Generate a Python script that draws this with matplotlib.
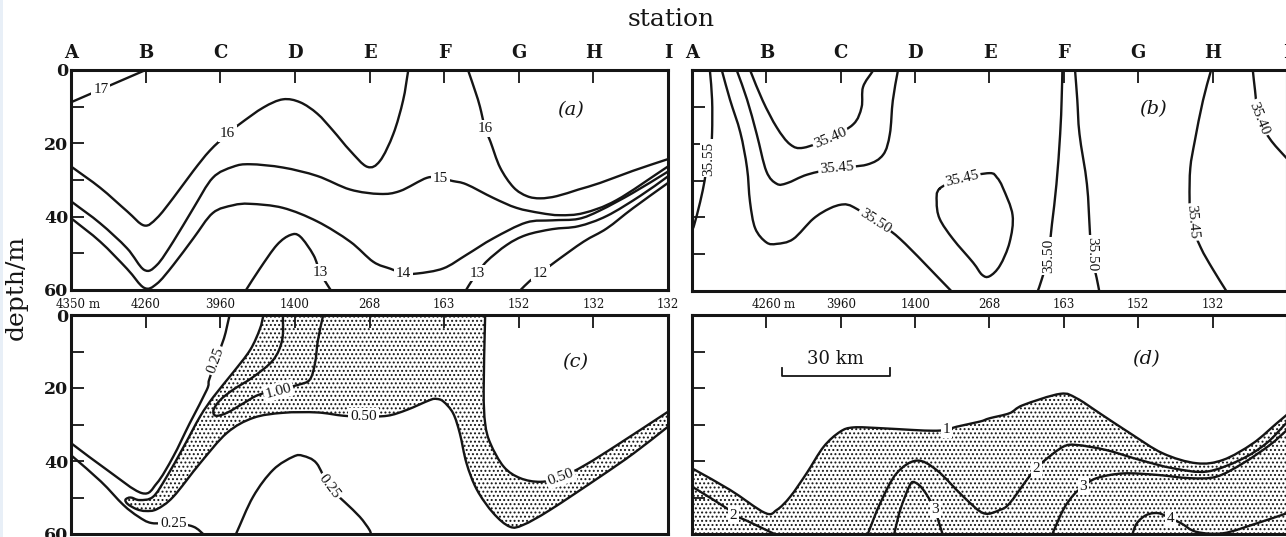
import numpy as np
import matplotlib
matplotlib.use("Agg")
import matplotlib.pyplot as plt
from matplotlib.patches import Rectangle, PathPatch
from matplotlib.path import Path

plt.rcParams['hatch.linewidth'] = 0.9
plt.rcParams['hatch.color'] = 'black'
plt.rcParams['font.family'] = ['DejaVu Serif']

# ---------------- axes data ----------------
stations = ["A", "B", "C", "D", "E", "F", "G", "H", "I"]
station_pos = [0, 1, 2, 3, 4, 5, 6, 7, 8]
depth_ticks = [0, 10, 20, 30, 40, 50, 60]
depth_labels = ["0", "", "20", "", "40", "", "60"]
water_depth_c = ["4350", "4260", "3960", "1400", "268", "163", "152", "132", "132"]
water_depth_d = ["", "4260", "3960", "1400", "268", "163", "152", "132", ""]

# ---------------- (a) temperature ----------------
a17_x = [0.0, 1.0]
a17_d = [8.8, 0.0]
a16l_x = [0.0, 0.39, 0.75, 0.98, 1.15, 1.37, 1.64, 1.86, 2.1, 2.27, 2.58, 2.84, 3.07, 3.3, 3.51, 3.74, 3.97, 4.14, 4.32, 4.45, 4.52]
a16l_d = [26.3, 32.1, 38.5, 42.4, 40.4, 34.9, 27.5, 22.0, 17.4, 14.6, 10.2, 8.0, 8.8, 11.9, 16.5, 22.0, 26.4, 24.8, 17.4, 8.3, 0.0]
a16r_x = [5.32, 5.42, 5.48, 5.55, 5.62, 5.75, 5.93, 6.11, 6.29, 6.51, 6.8, 7.09, 7.53, 8.0]
a16r_d = [0.0, 6.0, 10.0, 16.0, 19.5, 26.6, 32.0, 34.4, 35.0, 34.4, 32.6, 30.8, 27.5, 24.3]
a15_x = [0.0, 0.39, 0.75, 0.98, 1.15, 1.37, 1.64, 1.9, 2.17, 2.4, 2.84, 3.3, 3.74, 4.14, 4.41, 4.77, 4.95, 5.12, 5.3, 5.66, 5.97, 6.29, 6.55, 6.87, 7.31, 8.0]
a15_d = [35.8, 41.8, 48.6, 54.5, 53.2, 46.8, 37.7, 29.4, 26.4, 25.7, 26.6, 28.9, 32.6, 33.8, 33.0, 29.4, 29.6, 30.3, 31.2, 34.9, 37.6, 39.0, 39.6, 39.0, 35.5, 26.3]
a14_x = [0.0, 0.39, 0.75, 0.98, 1.15, 1.37, 1.64, 1.9, 2.17, 2.4, 2.84, 3.3, 3.74, 4.05, 4.28, 4.45, 4.64, 4.99, 5.3, 5.66, 6.1, 6.45, 6.8, 7.09, 7.53, 8.0]
a14_d = [40.4, 46.8, 54.2, 59.4, 58.3, 53.2, 45.9, 39.0, 36.9, 36.5, 37.6, 41.3, 46.8, 52.3, 54.2, 55.4, 55.5, 54.1, 50.4, 45.9, 41.6, 41.0, 40.6, 38.3, 33.5, 27.7]
a13l_x = [2.33, 2.53, 2.76, 2.94, 3.07, 3.25, 3.34, 3.47, 3.5]
a13l_d = [60.5, 54.2, 47.7, 45.0, 45.4, 50.5, 55.3, 59.7, 60.5]
a13r_x = [5.28, 5.37, 5.45, 5.57, 5.84, 6.1, 6.45, 6.8, 7.18, 7.63, 8.0]
a13r_d = [60.5, 57.5, 55.4, 52.2, 47.7, 45.0, 43.4, 42.6, 39.8, 34.3, 29.0]
a12_x = [6.0, 6.15, 6.29, 6.49, 6.87, 7.18, 7.53, 8.0]
a12_d = [60.5, 57.5, 55.4, 52.3, 46.8, 43.2, 37.7, 30.8]

# ---------------- (b) salinity ----------------
b3555_x = [0.24, 0.27, 0.27, 0.25, 0.20, 0.17, 0.11, 0.03, 0.0]
b3555_d = [0.0, 8.0, 17.0, 22.0, 26.0, 30.0, 35.8, 42.0, 43.5]
b3550_x = [0.40, 0.51, 0.65, 0.74, 0.78, 0.85, 1.0, 1.14, 1.36, 1.63, 1.85, 2.03, 2.17, 2.46, 2.8, 3.51]
b3550_d = [0.0, 8.0, 17.0, 26.6, 35.8, 43.0, 46.8, 47.2, 45.9, 40.4, 37.6, 36.5, 37.2, 41.0, 45.9, 60.5]
b3545a_x = [0.60, 0.74, 0.87, 1.0, 1.14, 1.28, 1.55, 1.95, 2.35, 2.57, 2.66, 2.70, 2.77]
b3545a_d = [0.0, 8.0, 17.4, 27.5, 30.9, 30.7, 28.4, 26.6, 25.7, 23.0, 17.4, 8.3, 0.0]
b3540a_x = [0.78, 0.95, 1.14, 1.32, 1.50, 1.86, 2.17, 2.28, 2.30, 2.44]
b3540a_d = [0.0, 8.3, 15.6, 20.2, 21.1, 18.4, 14.7, 10.1, 4.6, 0.0]
b3545o_x = [3.33, 3.63, 4.0, 4.1, 4.18, 4.31, 4.27, 4.14, 4.0, 3.9, 3.78, 3.51, 3.33, 3.29, 3.33]
b3545o_d = [32.2, 29.4, 28.0, 29.2, 32.0, 39.4, 46.8, 53.1, 56.0, 55.6, 52.3, 45.9, 40.4, 35.8, 32.2]
b3550f1_x = [4.98, 4.97, 4.95, 4.90, 4.84, 4.79, 4.70, 4.64]
b3550f1_d = [0.0, 8.0, 17.4, 31.0, 41.8, 50.4, 57.0, 60.5]
b3550f2_x = [5.15, 5.18, 5.21, 5.31, 5.35, 5.37, 5.44, 5.48]
b3550f2_d = [0.0, 8.0, 17.4, 31.0, 44.0, 50.0, 56.4, 60.5]
b3545h_x = [6.98, 6.87, 6.76, 6.70, 6.69, 6.71, 6.84, 7.0, 7.2]
b3545h_d = [0.0, 8.3, 19.3, 26.6, 35.0, 41.3, 48.2, 54.0, 60.5]
b3540i_x = [7.54, 7.57, 7.62, 7.77, 7.97, 8.05]
b3540i_d = [0.0, 5.5, 13.1, 18.7, 23.4, 25.0]

# ---------------- (c) ----------------
c025a_x = [0.0, 0.48, 0.95, 1.15, 1.37, 1.59, 1.82, 1.85, 1.94, 2.05, 2.12, 2.13]
c025a_d = [35.1, 42.4, 48.8, 46.1, 38.8, 29.7, 20.5, 17.8, 12.5, 6.4, 0.5, 0.0]
c050_x = [2.58, 2.53, 2.4, 2.17, 1.91, 1.73, 1.51, 1.28, 1.1, 0.92, 0.8, 0.73, 0.76, 0.88, 1.0, 1.15, 1.37, 1.73, 2.09, 2.44, 2.84, 3.3, 3.65, 3.92, 4.24, 4.5, 4.81, 4.9, 4.99, 5.12, 5.21, 5.3, 5.44, 5.66, 5.88, 6.06, 6.42, 7.09, 7.54, 8.0]
c050_d = [0.0, 3.9, 9.6, 15.8, 22.4, 27.8, 36.1, 44.4, 49.8, 50.7, 50.0, 50.6, 51.8, 53.2, 53.7, 53.2, 49.8, 40.6, 32.3, 28.2, 26.8, 26.7, 27.6, 27.8, 27.6, 26.0, 23.3, 23.0, 23.7, 26.9, 32.4, 40.6, 47.9, 54.3, 58.0, 57.5, 53.4, 44.3, 37.9, 30.6]
c050r_x = [5.55, 5.53, 5.55, 5.62, 5.8, 6.02, 6.29, 6.56, 6.89, 7.32, 8.0]
c050r_d = [0.0, 20.5, 29.7, 35.2, 41.6, 44.7, 45.7, 44.5, 41.1, 35.6, 26.5]
c100_x = [2.84, 2.83, 2.71, 2.44, 2.17, 2.0, 1.91, 1.94, 2.09, 2.31, 2.51, 2.78, 3.05, 3.2, 3.27, 3.31, 3.38]
c100_d = [0.0, 6.8, 12.3, 17.0, 20.5, 23.3, 26.0, 27.6, 26.8, 24.2, 21.9, 20.5, 19.1, 17.7, 13.2, 6.8, 0.0]
c025b_x = [0.0, 0.4, 0.7, 0.9, 1.08, 1.37, 1.64, 1.8]
c025b_d = [38.4, 45.6, 52.0, 55.2, 57.0, 57.0, 58.0, 60.5]
c025c_x = [2.2, 2.44, 2.71, 2.98, 3.11, 3.29, 3.46, 3.67, 3.87, 4.0, 4.02]
c025c_d = [60.5, 49.8, 42.4, 38.8, 38.6, 40.6, 47.1, 51.3, 55.3, 58.9, 60.5]

# ---------------- (d) ----------------
d1_x = [0.0, 0.51, 0.98, 1.14, 1.32, 1.54, 1.77, 1.99, 2.17, 2.53, 2.97, 3.24, 3.42, 3.56, 3.87, 4.0, 4.27, 4.45, 4.95, 5.17, 5.48, 5.89, 6.33, 6.78, 7.14, 7.54, 7.86, 8.0]
d1_d = [42.0, 47.9, 54.2, 53.4, 49.8, 43.4, 36.1, 32.0, 30.8, 31.0, 31.5, 31.7, 31.5, 30.6, 29.2, 28.3, 26.9, 24.7, 21.6, 22.8, 26.9, 32.4, 37.9, 40.6, 39.7, 35.2, 29.7, 27.3]
d2a_x = [0.0, 0.47, 0.56, 0.74, 1.18]
d2a_d = [47.0, 53.0, 54.8, 56.4, 60.7]
d2b_x = [2.35, 2.53, 2.75, 3.02, 3.29, 3.65, 3.92, 4.14, 4.27, 4.5, 4.63, 4.75, 4.99, 5.17, 5.57, 6.02, 6.47, 6.92, 7.37, 7.72, 8.0]
d2b_d = [60.7, 51.6, 43.4, 39.9, 42.5, 49.8, 54.3, 53.4, 51.6, 45.2, 42.0, 39.7, 36.1, 35.6, 37.0, 39.7, 42.0, 42.9, 39.7, 35.2, 29.4]
d3a_x = [2.71, 2.8, 2.93, 3.0, 3.11, 3.27, 3.31, 3.38]
d3a_d = [60.7, 53.4, 46.6, 45.9, 47.9, 53.2, 56.2, 60.7]
d3b_x = [4.83, 4.99, 5.13, 5.26, 5.44, 5.8, 6.25, 6.69, 7.05, 7.41, 7.77, 8.0]
d3b_d = [60.7, 53.4, 49.3, 47.0, 44.7, 43.4, 43.8, 44.7, 44.3, 40.6, 35.6, 31.5]
d4_x = [5.91, 5.98, 6.11, 6.27, 6.43, 6.58, 6.78, 7.14, 7.59, 8.0]
d4_d = [60.7, 57.1, 54.8, 54.3, 55.7, 57.1, 59.4, 59.8, 57.1, 54.3]

scale_bar_x = [1.21, 2.66]
scale_bar_label = "30 km"

# ---------------- drawing ----------------
INK = '#151515'
LW = 1.7
W, H = 1286, 537

fig = plt.figure(figsize=(W / 100, H / 100), dpi=100)
fig.add_artist(Rectangle((0, 0), 3 / W, 1, transform=fig.transFigure,
                         facecolor='#e8eff7', edgecolor='none', zorder=-5))


def px_axes(x0, x1, y0, y1):
    return fig.add_axes([x0 / W, 1 - y1 / H, (x1 - x0) / W, (y1 - y0) / H])


axa = px_axes(71, 668, 70, 290)
axb = px_axes(692, 1287, 70, 291)
axc = px_axes(71, 668, 315, 534)
axd = px_axes(692, 1287, 315, 534)


def setup(ax, top_labels, top_style, show_y):
    ax.set_xlim(0, 8)
    ax.set_ylim(60, 0)
    for s in ax.spines.values():
        s.set_linewidth(2.2)
        s.set_color(INK)
    ax.set_xticks(station_pos)
    ax.set_yticks(depth_ticks)
    ax.xaxis.tick_top()
    ax.tick_params(axis='both', direction='in', length=9.5, width=1.3, color=INK)
    ax.tick_params(axis='x', top=True, bottom=False, labeltop=True, labelbottom=False)
    if top_style == 'letters':
        ax.set_xticklabels(top_labels, fontsize=13, fontweight='bold', color=INK)
        ax.tick_params(axis='x', pad=6)
    else:
        ax.set_xticklabels(top_labels, fontsize=8.5, color=INK)
        ax.tick_params(axis='x', pad=3)
    if show_y:
        ax.set_yticklabels(depth_labels, fontsize=12.5, fontweight='bold', color=INK)
        ax.tick_params(axis='y', pad=2)
    else:
        ax.tick_params(axis='y', labelleft=False)


def smooth_path(x, d, closed=False):
    """Bezier (Catmull-Rom) path through the read points, for a hand-drawn look."""
    P = np.column_stack([x, d]).astype(float)
    if closed:
        P = P[:-1]
        n = len(P)
        ext = np.vstack([P[-1], P, P[0], P[1]])
        nseg = n
    else:
        ext = np.vstack([2 * P[0] - P[1], P, 2 * P[-1] - P[-2]])
        nseg = len(P) - 1
    verts = [ext[1]]
    codes = [Path.MOVETO]
    for i in range(nseg):
        p0, p1, p2, p3 = ext[i], ext[i + 1], ext[i + 2], ext[i + 3]
        verts += [p1 + (p2 - p0) / 6, p2 - (p3 - p1) / 6, p2]
        codes += [Path.CURVE4] * 3
    return np.array(verts), codes


def line(ax, x, d, closed=False):
    v, c = smooth_path(x, d, closed)
    ax.add_patch(PathPatch(Path(v, c), fill=False, edgecolor=INK, lw=LW,
                           joinstyle='round', capstyle='round', zorder=3))


def stipple(ax, parts):
    verts, codes = [], []
    for k, (x, d) in enumerate(parts):
        v, c = smooth_path(x, d)
        c = list(c)
        if k > 0:
            c[0] = Path.LINETO
        verts.append(v)
        codes += c
    verts = np.vstack(verts + [verts[0][:1]])
    codes += [Path.CLOSEPOLY]
    ax.add_patch(PathPatch(Path(verts, codes), facecolor='none', edgecolor=INK,
                           linewidth=0, hatch='....', zorder=1))


def clab(ax, x, d, s, rot=0, size=11):
    ax.text(x, d, s, rotation=rot, rotation_mode='anchor', ha='center', va='center',
            fontsize=size, family='Liberation Serif', color=INK, zorder=4,
            bbox=dict(boxstyle='square,pad=0.12', fc='white', ec='none'))


setup(axa, stations, 'letters', True)
setup(axb, stations, 'letters', False)
setup(axc, water_depth_c, 'depths', True)
setup(axd, water_depth_d, 'depths', False)

# units after first depth labels
axc.annotate('m', xy=(0, 1), xycoords=('data', 'axes fraction'), xytext=(12.5, 3),
             textcoords='offset points', ha='left', va='bottom', fontsize=8.5, color=INK)
axd.annotate('m', xy=(1, 1), xycoords=('data', 'axes fraction'), xytext=(12.5, 3),
             textcoords='offset points', ha='left', va='bottom', fontsize=8.5, color=INK)

# (a)
for x, d in [(a17_x, a17_d), (a16l_x, a16l_d), (a16r_x, a16r_d), (a15_x, a15_d),
             (a14_x, a14_d), (a13l_x, a13l_d), (a13r_x, a13r_d), (a12_x, a12_d)]:
    line(axa, x, d)
clab(axa, 0.40, 5.3, '17')
clab(axa, 2.1, 17.4, '16')
clab(axa, 5.55, 16.0, '16')
clab(axa, 4.95, 29.6, '15')
clab(axa, 4.45, 55.4, '14')
clab(axa, 3.34, 55.3, '13')
clab(axa, 5.45, 55.4, '13')
clab(axa, 6.29, 55.4, '12')
axa.text(6.7, 11, '(a)', style='italic', fontsize=14, ha='center', va='center', color=INK)

# (b)
for x, d in [(b3555_x, b3555_d), (b3550_x, b3550_d), (b3545a_x, b3545a_d), (b3540a_x, b3540a_d),
             (b3550f1_x, b3550f1_d), (b3550f2_x, b3550f2_d),
             (b3545h_x, b3545h_d), (b3540i_x, b3540i_d)]:
    line(axb, x, d)
line(axb, b3545o_x, b3545o_d, closed=True)
clab(axb, 0.22, 24.0, '35.55', 90)
clab(axb, 2.46, 41.0, '35.50', -33)
clab(axb, 1.95, 26.7, '35.45', 5)
clab(axb, 1.86, 18.4, '35.40', 23)
clab(axb, 3.63, 29.4, '35.45', 13)
clab(axb, 4.79, 50.4, '35.50', 90)
clab(axb, 5.37, 50.0, '35.50', -90)
clab(axb, 6.72, 41.3, '35.45', -85)
clab(axb, 7.62, 13.1, '35.40', -68)
axb.text(6.2, 10.5, '(b)', style='italic', fontsize=14, ha='center', va='center', color=INK)

# (c)
stipple(axc, [(c050_x, c050_d), (c050r_x[::-1], c050r_d[::-1])])
for x, d in [(c025a_x, c025a_d), (c050_x, c050_d), (c050r_x, c050r_d), (c100_x, c100_d),
             (c025b_x, c025b_d), (c025c_x, c025c_d)]:
    line(axc, x, d)
clab(axc, 1.94, 12.5, '0.25', 70)
clab(axc, 2.78, 20.8, '1.00', 15)
clab(axc, 3.92, 27.8, '0.50', 0)
clab(axc, 1.37, 57.0, '0.25', 0)
clab(axc, 3.46, 47.1, '0.25', -53)
clab(axc, 6.56, 44.4, '0.50', 20)
axc.text(6.76, 13, '(c)', style='italic', fontsize=14, ha='center', va='center', color=INK)

# (d)
stipple(axd, [(d1_x, d1_d), ([8.0, 8.0, 0.0], [62.0, 62.0, 62.0])])
for x, d in [(d1_x, d1_d), (d2a_x, d2a_d), (d2b_x, d2b_d), (d3a_x, d3a_d),
             (d3b_x, d3b_d), (d4_x, d4_d)]:
    line(axd, x, d)
clab(axd, 3.42, 31.5, '1', size=11)
clab(axd, 0.56, 54.8, '2', size=11)
clab(axd, 4.63, 42.0, '2', size=11)
clab(axd, 3.27, 53.2, '3', size=11)
clab(axd, 5.26, 47.0, '3', size=11)
clab(axd, 6.43, 55.7, '4', size=11)
axd.plot([scale_bar_x[0], scale_bar_x[0], scale_bar_x[1], scale_bar_x[1]],
         [14.5, 16.7, 16.7, 14.5], color=INK, lw=1.3, zorder=3)
axd.text(sum(scale_bar_x) / 2, 12.0, scale_bar_label, fontsize=13, ha='center', va='center', color=INK)
axd.text(6.11, 12.0, '(d)', style='italic', fontsize=14, ha='center', va='center', color=INK)

fig.text(671 / W, 1 - 20 / H, 'station', ha='center', va='center', fontsize=18, color=INK)
fig.text(16 / W, 1 - 287 / H, 'depth/m', rotation=90, ha='center', va='center', fontsize=18, color=INK)

fig.savefig('out.png', dpi=100)
